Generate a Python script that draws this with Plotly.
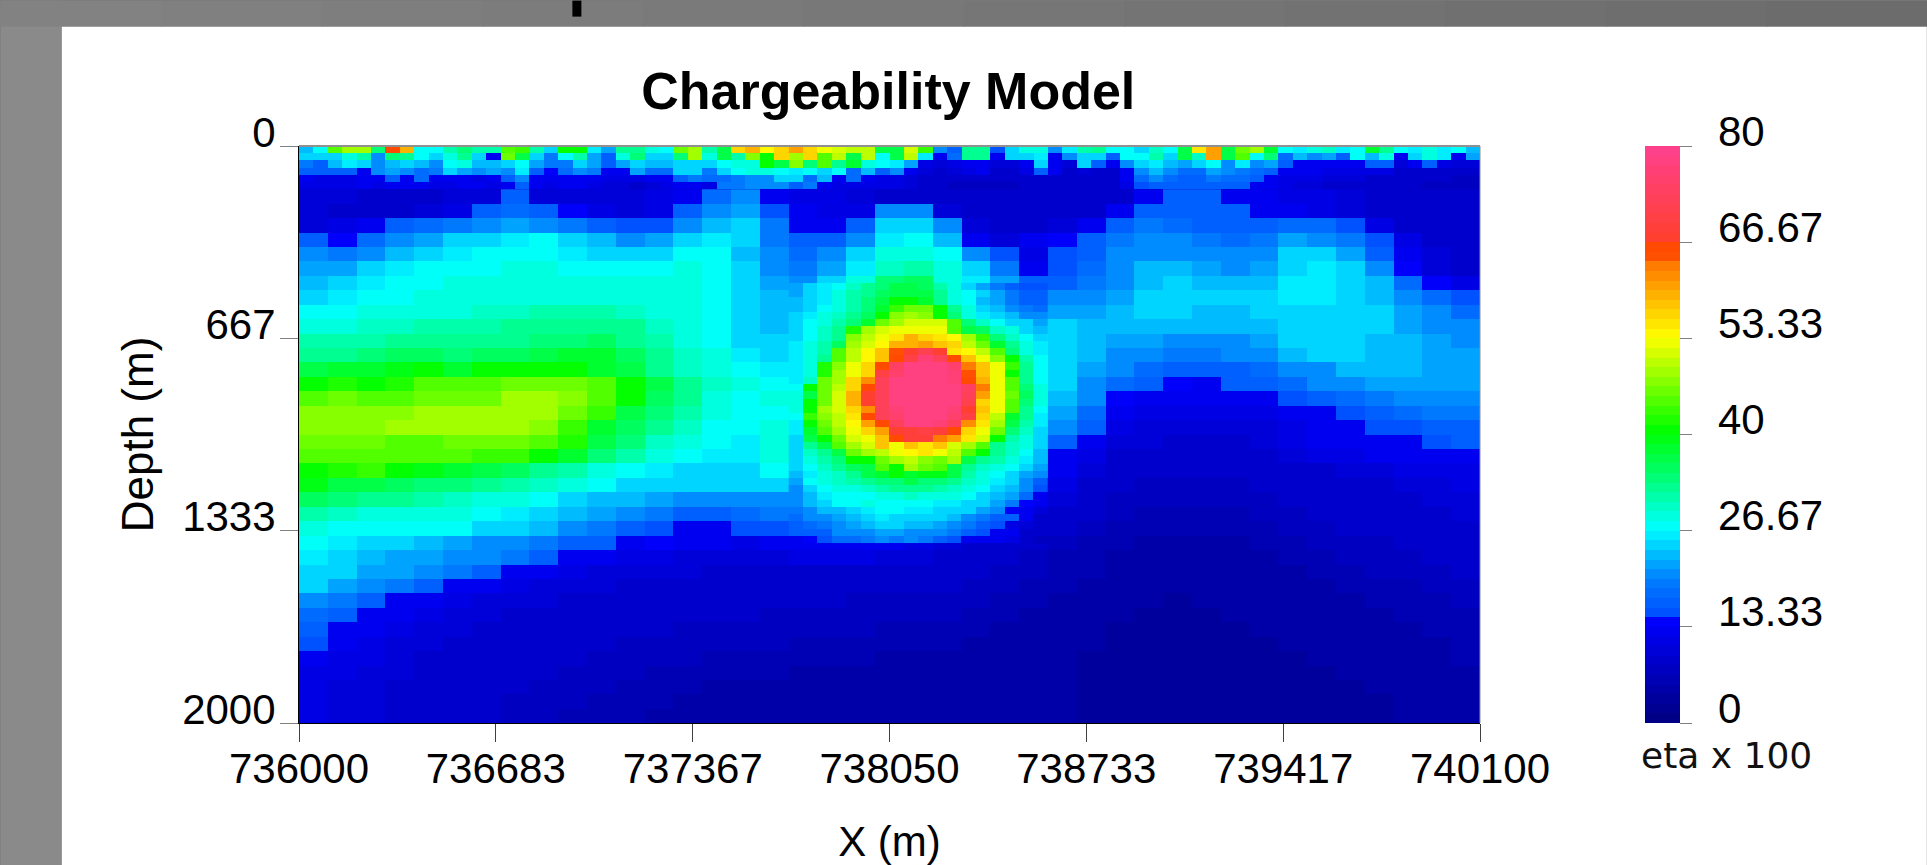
import plotly.graph_objects as go

W, H = 1927, 865
PL, PR, PT, PB = 298.5, 1480.0, 145.5, 723.0

x_ticks = [736000, 736683, 737367, 738050, 738733, 739417, 740100]
y_ticks = [0, 667, 1333, 2000]
cb_ticks = [0, 13.33, 26.67, 40, 53.33, 66.67, 80]
cb_labels = ["0", "13.33", "26.67", "40", "53.33", "66.67", "80"]
strip_greys = [130, 128, 126, 124, 122, 120, 118, 116, 114, 112, 110, 108]

# Colour ramp: value, (r, g, b)
ramp = [
    (0, (0, 0, 128)), (14.4, (0, 0, 255)), (14.41, (0, 72, 255)),
    (20, (0, 128, 255)), (27, (0, 255, 255)), (33.5, (0, 255, 128)),
    (40.5, (0, 255, 0)), (47, (128, 255, 0)), (53.5, (255, 255, 0)),
    (64.2, (255, 112, 0)), (64.3, (255, 80, 0)), (67.2, (255, 70, 0)),
    (67.3, (255, 64, 48)), (80, (255, 64, 144)),
]

# Surface band, 50 m x 25 m cells, 0-150 m depth
top_z = [
    [23,27,44,48,49,34,66,59,27,27,31,34,31,31,44,43,31,25,40,40,26,22,33,33,28,27,46,48,
     31,37,57,59,54,57,60,57,53,51,50,50,36,37,51,43,20,17,33,33,15,25,28,29,20,26,31,
     33,27,27,25,30,27,37,55,60,36,46,48,38,27,26,29,30,26,27,38,33,27,26,28,26,27,23],
    [24,25,25,28,31,21,34,32,27,25,28,32,24,13,46,37,24,19,27,31,22,16,28,34,24,24,34,48,
     29,36,31,47,40,57,48,57,45,50,37,50,27,37,50,26,12,18,33,33,13,25,24,26,13,20,24,
     25,16,27,27,31,25,37,30,60,36,44,27,34,18,23,20,22,17,27,23,28,13,25,28,26,13,22],
    [19,17,23,26,24,21,23,24,23,20,27,29,23,23,24,27,22,19,19,25,22,17,22,25,23,23,25,25,
     24,27,28,29,40,37,47,34,44,33,38,28,27,26,22,11,10,11,12,12,10,10,12,24,12,10,24,
     17,12,20,24,26,23,22,25,27,21,26,21,22,16,12,12,12,12,13,16,16,10,13,17,11,10,10],
    [17,17,16,16,13,21,22,20,18,19,24,22,21,22,20,26,17,14,18,20,19,13,13,22,18,18,24,24,
     19,24,27,28,28,27,26,27,24,27,18,23,17,20,12,10,9,10,11,12,9,9,11,17,12,9,10,
     9,9,12,20,23,20,18,18,22,20,19,18,16,12,12,12,11,11,11,11,11,9,9,9,9,8,8],
    [12,11,11,11,13,12,16,13,18,12,12,12,11,12,17,21,12,12,12,13,12,11,11,11,12,12,17,19,
     18,18,19,20,20,25,25,18,23,12,18,12,11,11,10,9,8,8,8,9,9,8,8,9,9,8,8,
     8,8,12,18,21,18,17,17,19,18,18,16,12,11,11,11,10,10,10,9,9,8,8,8,8,7,7],
    [11,11,11,11,12,11,13,13,12,11,11,12,12,11,13,16,12,11,12,12,11,10,10,9,10,11,12,12,
     11,19,19,20,20,20,16,19,12,11,11,11,11,11,10,9,8,7,7,7,7,7,8,8,8,8,8,
     8,8,11,15,16,16,16,16,16,16,16,13,12,11,10,10,9,9,9,8,8,8,8,7,7,7,7],
]

# Section body, read in 100 m x 50 m blocks, 150-2000 m depth
body_z = [
    [10,10,9,9,9,10,10,16,10,10,10,10,11,12,18,21,13,11,11,10,9,9,9,8,8,8,8,8,9,12,16,16,13,13,11,11,10,9,8,8,8],
    [10,9,9,9,10,11,16,18,17,14,11,10,11,16,20,22,15,12,11,11,20,20,10,9,8,8,8,9,12,16,16,16,16,12,12,11,10,9,8,8,8],
    [10,11,13,16,18,19,21,22,21,19,16,15,15,21,23,24,19,13,12,16,24,25,21,10,9,9,10,13,17,19,18,17,16,17,18,18,15,11,9,8,8],
    [17,14,18,20,22,24,25,26,27,25,23,21,22,24,26,25,19,17,17,20,26,27,23,13,10,13,14,16,19,20,20,19,18,19,22,21,19,15,11,9,8],
    [20,19,21,23,25,26,27,27,27,26,24,24,25,27,27,23,20,18,20,24,28,29,27,20,15,11,15,17,20,21,21,20,20,21,24,24,22,17,13,10,8],
    [22,22,24,26,27,27,27,28,28,27,27,27,27,28,27,24,21,19,22,26,30,31,28,24,19,13,15,18,21,23,23,22,21,22,25,26,24,20,14,10,9],
    [23,24,26,27,27,28,28,28,28,28,28,28,28,28,27,24,22,21,24,28,34,35,29,26,22,16,17,19,21,23,24,23,23,23,26,26,25,23,18,14,11],
    [25,26,27,27,28,28,29,29,29,29,28,28,28,28,27,25,23,22,25,29,37,36,30,27,24,19,20,20,22,24,24,24,24,24,26,26,25,23,21,18,15],
    [27,27,28,28,29,29,30,30,31,31,31,30,29,28,27,25,23,23,26,31,45,44,31,28,26,22,22,22,23,24,24,23,23,24,25,25,25,24,22,20,18],
    [29,29,30,30,31,31,31,32,33,33,33,32,30,29,27,25,23,24,27,33,50,50,38,30,27,24,24,23,23,23,23,23,23,23,24,25,25,24,22,21,20],
    [31,31,31,32,32,33,33,33,34,34,35,33,31,29,27,25,24,25,28,36,55,55,44,31,28,26,24,23,22,22,21,21,21,22,24,24,24,23,23,22,21],
    [33,33,34,35,35,34,35,35,36,38,38,35,32,30,28,26,25,26,29,44,60,60,50,33,28,27,25,23,21,20,19,19,20,21,23,24,24,23,23,22,22],
    [37,38,38,39,40,38,40,40,41,41,38,36,33,30,28,27,26,28,31,50,70,70,58,38,29,27,25,22,20,18,17,16,17,18,20,21,23,23,23,22,22],
    [40,42,41,42,44,45,45,46,46,46,44,40,36,33,30,28,27,30,36,54,78,78,62,40,30,27,24,21,18,16,14,13,16,16,18,20,21,22,22,22,22],
    [44,46,45,45,46,46,46,48,48,47,45,40,35,32,29,27,28,31,38,56,78,78,62,42,30,26,23,20,14,12,12,12,12,13,15,16,18,19,20,21,21],
    [47,47,47,47,48,49,49,49,48,46,43,37,34,31,28,27,27,31,38,57,78,78,62,40,30,25,22,18,12,11,11,11,11,11,12,13,15,17,18,19,19],
    [47,47,47,48,49,49,49,49,47,43,38,35,32,30,27,27,28,32,42,56,76,76,58,40,29,24,20,16,11,10,10,10,10,10,11,12,13,15,15,16,16],
    [46,46,46,45,45,46,46,46,45,42,37,34,30,28,27,26,28,32,38,52,60,60,50,38,28,22,16,13,10,10,9,9,9,10,11,12,12,12,13,15,16],
    [44,44,44,44,44,44,43,43,41,38,34,31,29,27,26,26,28,31,36,43,47,47,40,33,27,22,13,11,9,9,9,8,8,9,10,11,11,12,12,12,13],
    [40,42,43,41,39,38,37,35,33,31,29,27,26,25,25,25,27,29,32,38,38,38,33,29,26,19,12,10,8,8,8,8,8,8,9,9,10,10,11,11,11],
    [39,36,36,35,34,34,33,31,30,28,27,25,24,24,24,24,25,27,28,31,33,32,30,27,23,13,11,9,8,7,7,7,7,8,8,9,9,9,10,10,11],
    [35,34,33,32,31,30,29,28,27,25,23,23,22,21,20,21,21,22,27,27,28,28,27,24,13,11,10,8,7,7,7,7,7,7,8,8,8,9,9,10,10],
    [31,30,29,28,28,28,27,26,25,23,22,21,19,17,17,18,19,20,23,24,24,24,23,19,14,10,9,8,7,6,6,6,6,7,7,8,8,8,9,9,10],
    [28,27,27,27,27,27,25,24,23,21,19,17,15,13,13,15,15,15,17,18,18,17,12,11,10,9,8,7,6,6,6,6,6,6,7,7,8,8,8,9,9],
    [27,26,25,24,23,22,21,20,19,17,16,12,14,12,12,11,12,12,13,13,12,11,10,9,9,8,7,6,6,5,5,5,5,6,6,7,7,7,8,8,9],
    [26,24,23,22,22,21,20,19,17,13,12,11,11,10,10,10,10,11,11,11,10,10,9,8,8,7,6,6,5,5,5,5,5,5,6,6,7,7,7,8,8],
    [25,24,22,22,20,19,17,13,12,11,10,10,10,10,9,9,9,9,9,9,9,9,8,8,7,7,6,6,5,5,4,4,5,5,5,6,6,7,7,7,8],
    [24,22,21,19,17,13,12,11,10,10,10,9,9,9,9,9,9,8,8,8,8,8,8,7,7,6,6,5,5,4,4,4,4,5,5,5,6,6,6,7,7],
    [21,19,17,13,12,11,10,10,10,9,9,9,9,8,8,8,8,8,8,7,7,7,7,7,6,6,5,5,4,4,3,4,4,4,5,5,5,6,6,6,7],
    [18,16,13,12,11,10,10,9,9,9,8,8,8,8,8,8,7,7,7,7,7,7,7,6,6,5,5,4,4,3,3,3,4,4,4,5,5,5,6,6,6],
    [16,13,12,11,10,10,9,9,9,8,8,8,8,7,7,7,7,7,7,7,6,6,6,6,5,5,5,4,3,3,3,3,3,4,4,4,5,5,5,6,6],
    [15,12,11,10,10,9,9,9,8,8,8,7,7,7,7,7,7,6,6,6,6,6,6,5,5,5,4,4,3,3,3,3,3,3,4,4,4,5,5,5,6],
    [12,11,11,10,9,9,9,8,8,8,7,7,7,7,6,6,6,6,6,6,5,5,5,5,5,4,4,3,3,3,3,3,3,3,3,4,4,4,5,5,6],
    [11,11,10,10,9,9,8,8,8,7,7,7,6,6,6,6,6,5,5,5,5,5,5,5,4,4,4,3,3,3,3,3,3,3,3,3,4,4,4,5,5],
    [11,10,10,9,9,8,8,8,7,7,7,6,6,6,5,5,5,5,5,5,5,4,4,4,4,4,4,3,3,3,3,3,3,3,3,3,3,4,4,5,5],
    [11,10,10,9,9,8,8,7,7,7,6,6,6,5,5,4,4,4,4,4,4,4,4,4,4,4,4,3,3,3,3,3,3,3,3,3,3,3,4,4,5],
    [11,10,10,9,9,8,8,7,7,6,6,6,5,5,4,4,4,4,4,4,4,4,4,4,4,4,4,3,3,3,3,3,3,3,3,3,3,3,4,4,4],
]

# Anomaly, 50 m x 25 m cells, 737700-738600 m, 475-1375 m depth
blob_z = [
    [22,24,26,27,30,32,34,36,36,35,31,28,25,22,19,16,15,15],
    [22,24,26,28,31,33,35,37,37,36,32,28,27,24,22,19,16,16],
    [23,24,26,28,31,34,36,40,41,38,33,29,27,23,22,19,17,17],
    [23,25,27,29,31,34,38,43,46,46,40,33,28,25,23,21,19,18],
    [24,26,28,30,32,35,41,47,49,47,40,34,29,26,24,23,21,20],
    [24,27,29,31,34,38,46,49,51,51,51,44,34,30,27,25,24,22],
    [25,27,30,32,42,49,51,52,53,53,53,44,37,35,30,28,25,23],
    [25,27,30,32,47,50,53,55,59,56,55,54,48,43,34,30,27,24],
    [26,28,31,35,48,51,54,59,59,60,58,57,50,46,38,33,29,26],
    [26,28,31,44,50,54,58,64,67,71,67,55,54,50,44,34,29,26],
    [26,29,32,44,50,54,58,66,70,76,72,66,58,53,47,40,31,27],
    [26,29,42,47,53,57,66,74,78,78,78,75,63,58,52,43,32,27],
    [26,29,42,48,53,57,70,75,78,78,78,76,65,58,53,40,32,27],
    [26,30,46,49,57,62,73,78,78,78,78,77,66,59,53,44,33,27],
    [27,40,46,50,56,66,73,78,78,78,78,78,74,63,53,45,34,28],
    [28,37,46,51,59,67,73,78,78,78,78,78,72,61,53,46,35,28],
    [28,40,46,51,59,67,72,78,78,78,78,78,71,56,53,45,34,28],
    [28,40,48,51,56,62,72,77,78,78,78,76,67,58,52,44,33,27],
    [27,43,47,50,55,66,73,75,78,78,78,75,70,57,50,38,32,26],
    [26,40,46,50,54,60,66,73,78,78,77,73,62,55,49,36,31,26],
    [26,38,45,48,53,57,60,67,69,70,69,66,56,53,46,34,30,25],
    [25,36,41,46,51,53,58,66,69,69,63,60,55,51,40,31,29,24],
    [25,33,37,44,48,51,58,53,58,55,58,51,48,44,33,30,28,24],
    [24,30,33,37,46,49,50,53,54,55,53,50,44,40,33,30,27,23],
    [24,28,31,34,40,41,46,49,50,47,46,48,37,33,31,28,26,23],
    [24,27,30,32,35,37,44,40,48,46,44,37,33,30,28,27,25,22],
    [23,26,28,30,32,36,38,40,38,39,39,36,31,29,27,25,22,20],
    [22,27,28,30,31,33,34,34,36,34,34,33,30,28,26,24,21,17],
    [21,25,27,28,29,30,31,32,33,32,31,30,28,27,25,23,20,15],
    [20,23,26,27,27,27,29,29,30,29,28,28,27,25,23,22,18,13],
    [20,23,24,27,27,28,27,27,27,27,26,26,25,24,22,19,14,12],
    [19,21,23,23,25,26,27,27,26,26,25,24,24,22,20,14,13,10],
    [18,20,21,22,23,25,26,25,25,24,24,23,21,19,17,16,12,9],
    [16,18,19,21,22,23,24,24,23,23,22,21,19,17,15,11,10,8],
    [16,17,17,20,20,21,22,22,21,21,20,19,17,15,13,12,9,8],
    [13,14,15,18,18,19,20,19,20,19,17,15,13,13,12,11,8,7],
]

for name, grid, n in (("top", top_z, 82), ("body", body_z, 41), ("blob", blob_z, 18)):
    for i, row in enumerate(grid):
        if len(row) != n:
            raise ValueError(f"{name} row {i}: {len(row)}")


def ramp_colour(v):
    for (a, ca), (b, cb) in zip(ramp, ramp[1:]):
        if a <= v <= b:
            t = (v - a) / (b - a)
            return tuple(round(p + (q - p) * t) for p, q in zip(ca, cb))
    return ramp[-1][1]


levels = 60
colorscale = []
for i in range(levels):
    c = ramp_colour((i + 0.5) * 80 / levels)
    s = f"rgb({c[0]},{c[1]},{c[2]})"
    colorscale += [[i / levels, s], [(i + 1) / levels, s]]


def fx(px):
    return (px - PL) / (PR - PL)


def fy(py):
    return (PB - py) / (PB - PT)


def rect(x0, y0, x1, y1, colour):
    return dict(type="rect", xref="paper", yref="paper", x0=fx(x0), x1=fx(x1), y0=fy(y0), y1=fy(y1),
                fillcolor=colour, line_width=0, layer="below")


fig = go.Figure()
fig.add_trace(go.Heatmap(z=body_z, x0=736050, dx=100, y0=175, dy=50, coloraxis="coloraxis", hoverinfo="skip"))
fig.add_trace(go.Heatmap(z=top_z, x0=736025, dx=50, y0=12.5, dy=25, coloraxis="coloraxis", hoverinfo="skip"))
fig.add_trace(go.Heatmap(z=blob_z, x0=737725, dx=50, y0=487.5, dy=25, coloraxis="coloraxis", hoverinfo="skip"))

FONT = "Liberation Sans"
shapes = [rect(61, 26, W, H, "white"), rect(0, 0, 61, H, "#8b8a8b"), rect(PL, PT, PR, PB, "#0000c8")]
step = W / len(strip_greys)
for i, g in enumerate(strip_greys):
    shapes.append(rect(i * step, 0, (i + 1) * step + 1, 26, f"rgb({g},{g},{g})"))
shapes += [
    rect(572, 0, 581, 16, "black"),
    dict(type="line", xref="paper", yref="paper", x0=0, x1=1, y0=1, y1=1, line=dict(color="#909090", width=2)),
    dict(type="line", xref="paper", yref="paper", x0=1, x1=1, y0=0, y1=1, line=dict(color="#909090", width=1)),
]

annotations = [dict(text="eta x 100", xref="paper", yref="paper", x=fx(1727), y=fy(756), showarrow=False,
                    xanchor="center", yanchor="middle", font=dict(family="DejaVu Sans", size=36, color="#111111"))]
for v, label in zip(cb_ticks, cb_labels):
    annotations.append(dict(text=label, xref="paper", yref="paper", x=fx(1716), y=v / 80, yshift=15,
                            showarrow=False, xanchor="left", yanchor="middle",
                            font=dict(family=FONT, size=42, color="black")))

fig.update_layout(
    width=W, height=H,
    margin=dict(l=PL, r=W - PR, t=PT, b=H - PB, pad=0, autoexpand=False),
    paper_bgcolor="#7a7a7a", plot_bgcolor="#0000c8",
    font=dict(family=FONT, size=42, color="black"),
    title=dict(text="<b>Chargeability Model</b>", font=dict(family=FONT, size=52, color="black"),
               x=fx(888), xref="paper", xanchor="center", y=1 - 91 / H, yref="container", yanchor="middle"),
    xaxis=dict(range=[736000, 740100], tickmode="array", tickvals=x_ticks, tickformat="d", ticks="outside",
               ticklen=18, tickcolor="#404040", tickwidth=1, showline=True, linecolor="black", linewidth=1,
               showgrid=False, zeroline=False, ticklabelstandoff=-9, tickfont=dict(size=42), automargin=False,
               title=dict(text="X (m)", font=dict(size=42), standoff=39)),
    yaxis=dict(range=[2000, 0], tickmode="array", tickvals=y_ticks, tickformat="d", ticks="outside", ticklen=18,
               tickcolor="#808080", tickwidth=1, showline=True, linecolor="black", linewidth=1, showgrid=False,
               zeroline=False, ticklabelshift=14, ticklabelstandoff=-4, tickfont=dict(size=42), automargin=False,
               title=dict(text="Depth (m)", font=dict(size=44), standoff=14)),
    coloraxis=dict(cmin=0, cmax=80, colorscale=colorscale,
                   colorbar=dict(x=1645 / W, xref="container", xanchor="left", xpad=0,
                                 y=1, yref="paper", yanchor="top", ypad=0,
                                 thickness=35, thicknessmode="pixels", len=1, lenmode="fraction",
                                 outlinewidth=0, tickmode="array", tickvals=cb_ticks, ticktext=cb_labels,
                                 ticks="outside", ticklen=12, tickcolor="#808080", tickwidth=1,
                                 showticklabels=False)),
    annotations=annotations,
    shapes=shapes,
)

fig.write_html("out.html", config=dict(displayModeBar=False),
               post_script="document.body.style.margin='0';document.body.style.overflow='hidden';")
